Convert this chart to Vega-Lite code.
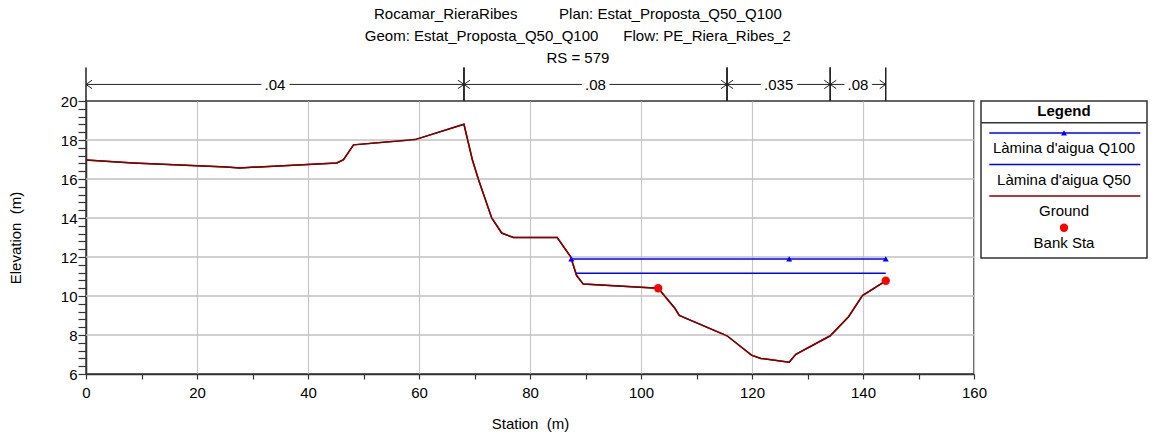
{
  "$schema": "https://vega.github.io/schema/vega-lite/v6.json",
  "padding": {"left": 7, "top": 6, "right": 0, "bottom": 0},
  "title": {
    "text": [
      "Rocamar_RieraRibes\u00a0\u00a0\u00a0\u00a0\u00a0\u00a0\u00a0\u00a0\u00a0\u00a0Plan: Estat_Proposta_Q50_Q100",
      "Geom: Estat_Proposta_Q50_Q100\u00a0\u00a0\u00a0\u00a0\u00a0\u00a0Flow: PE_Riera_Ribes_2",
      "RS = 579"
    ],
    "fontSize": 15,
    "fontWeight": "normal",
    "font": "Liberation Sans",
    "color": "black",
    "lineHeight": 22,
    "anchor": "middle",
    "offset": 0
  },
  "datasets": {
    "ygrid": [
      {"elevation": 8}, {"elevation": 10}, {"elevation": 12}, {"elevation": 14}, {"elevation": 16}, {"elevation": 18}
    ],
    "ground": [
      {"station": 0, "elevation": 16.97},
      {"station": 8.5, "elevation": 16.82},
      {"station": 25.3, "elevation": 16.62},
      {"station": 27.7, "elevation": 16.57},
      {"station": 45.2, "elevation": 16.82},
      {"station": 46.4, "elevation": 16.99},
      {"station": 48.2, "elevation": 17.75},
      {"station": 59.3, "elevation": 18.02},
      {"station": 68.1, "elevation": 18.81},
      {"station": 69.6, "elevation": 17.0},
      {"station": 70.7, "elevation": 15.99},
      {"station": 73.1, "elevation": 14.0},
      {"station": 74.9, "elevation": 13.23},
      {"station": 77.0, "elevation": 13.0},
      {"station": 84.9, "elevation": 13.0},
      {"station": 87.3, "elevation": 12.02},
      {"station": 88.4, "elevation": 11.05},
      {"station": 89.6, "elevation": 10.61},
      {"station": 103.1, "elevation": 10.4},
      {"station": 106.1, "elevation": 9.37},
      {"station": 106.9, "elevation": 9.0},
      {"station": 115.5, "elevation": 7.96},
      {"station": 119.9, "elevation": 6.97},
      {"station": 121.6, "elevation": 6.8},
      {"station": 126.7, "elevation": 6.6},
      {"station": 127.9, "elevation": 7.01},
      {"station": 134.1, "elevation": 7.96},
      {"station": 137.4, "elevation": 8.94},
      {"station": 139.9, "elevation": 10.02},
      {"station": 144.1, "elevation": 10.78}
    ],
    "q100": [
      {"station": 87.45, "elevation": 11.9},
      {"station": 126.7, "elevation": 11.9},
      {"station": 144.1, "elevation": 11.9}
    ],
    "q50": [
      {"station": 88.3, "elevation": 11.17},
      {"station": 144.1, "elevation": 11.17}
    ],
    "banks": [
      {"station": 103.1, "elevation": 10.4},
      {"station": 144.1, "elevation": 10.78}
    ],
    "manning": [
      {"zone": 1, "n": ".04", "start": 0, "end": 68.1},
      {"zone": 2, "n": ".08", "start": 68.1, "end": 115.5},
      {"zone": 3, "n": ".035", "start": 115.5, "end": 134.1},
      {"zone": 4, "n": ".08", "start": 134.1, "end": 144.1}
    ],
    "legend": [
      {"item": "Làmina d'aigua Q100"},
      {"item": "Làmina d'aigua Q50"},
      {"item": "Ground"},
      {"item": "Bank Sta"}
    ],
    "legendTitle": [
      {"item": "Legend"}
    ]
  },
  "hconcat": [
    {
      "width": 888,
      "height": 273,
      "layer": [
        {
          "data": {"name": "ground"},
          "mark": {"type": "line", "color": "#800000", "strokeWidth": 1.5},
          "encoding": {
            "x": {
              "field": "station", "type": "quantitative", "title": "Station\u00a0\u00a0(m)",
              "scale": {"domain": [0, 160], "nice": false, "zero": false},
              "axis": {
                "grid": true,
                "values": [0, 10, 20, 30, 40, 50, 60, 70, 80, 90, 100, 110, 120, 130, 140, 150, 160],
                "tickCount": 40,
                "labelExpr": "datum.value % 20 === 0 ? datum.label : ''",
                "gridOpacity": {"condition": {"test": "datum.value % 20 === 0", "value": 1}, "value": 0},
                "tickSize": 5,
                "labelPadding": 6,
                "titlePadding": 16,
                "labelOverlap": false,
                "labelFlush": false
              }
            },
            "y": {
              "field": "elevation", "type": "quantitative", "title": "Elevation\u00a0\u00a0(m)",
              "scale": {"domain": [6, 20], "nice": false, "zero": false},
              "axis": {
                "grid": false,
                "values": [6, 6.4, 6.8, 7.2, 7.6, 8, 8.4, 8.8, 9.2, 9.6, 10, 10.4, 10.8, 11.2, 11.6, 12, 12.4, 12.8, 13.2, 13.6, 14, 14.4, 14.8, 15.2, 15.6, 16, 16.4, 16.8, 17.2, 17.6, 18, 18.4, 18.8, 19.2, 19.6, 20],
                "tickCount": 80,
                "labelExpr": "datum.value % 2 === 0 ? format(datum.value, 'd') : ''",
                "tickSize": 8,
                "encode": {"ticks": {"update": {"x2": {"signal": "datum.value % 2 === 0 ? -8 : -4"}}}},
                "labelPadding": 1,
                "titlePadding": 37.3,
                "labelOverlap": false,
                "labelFlush": false
              }
            }
          }
        },
        {
          "data": {"name": "ygrid"},
          "mark": {"type": "rule", "color": "#c0c0c0", "strokeWidth": 1.3},
          "encoding": {
            "x": {"datum": 0, "type": "quantitative", "title": "Station\u00a0\u00a0(m)"},
            "x2": {"datum": 160},
            "y": {"field": "elevation", "type": "quantitative", "title": "Elevation\u00a0\u00a0(m)"}
          }
        },
        {
          "data": {"name": "ground"},
          "mark": {"type": "line", "color": "#800000", "strokeWidth": 1.5},
          "encoding": {
            "x": {"field": "station", "type": "quantitative", "title": "Station\u00a0\u00a0(m)"},
            "y": {"field": "elevation", "type": "quantitative", "title": "Elevation\u00a0\u00a0(m)"}
          }
        },
        {
          "data": {"name": "q50"},
          "mark": {"type": "line", "color": "#0000ff", "strokeWidth": 1.5},
          "encoding": {
            "x": {"field": "station", "type": "quantitative", "title": "Station\u00a0\u00a0(m)"},
            "y": {"field": "elevation", "type": "quantitative", "title": "Elevation\u00a0\u00a0(m)"}
          }
        },
        {
          "data": {"name": "q100"},
          "mark": {"type": "line", "color": "#0000ff", "strokeWidth": 1.5,
                   "point": {"shape": "triangle-up", "size": 36, "filled": true, "color": "#0000ff"}},
          "encoding": {
            "x": {"field": "station", "type": "quantitative", "title": "Station\u00a0\u00a0(m)"},
            "y": {"field": "elevation", "type": "quantitative", "title": "Elevation\u00a0\u00a0(m)"}
          }
        },
        {
          "data": {"name": "banks"},
          "mark": {"type": "point", "shape": "circle", "size": 70, "filled": true, "color": "#ff0000", "opacity": 1},
          "encoding": {
            "x": {"field": "station", "type": "quantitative", "title": "Station\u00a0\u00a0(m)"},
            "y": {"field": "elevation", "type": "quantitative", "title": "Elevation\u00a0\u00a0(m)"}
          }
        },
        {
          "data": {"name": "manning"},
          "mark": {"type": "rule", "color": "#222222", "strokeWidth": 1.5},
          "encoding": {
            "x": {"field": "start", "type": "quantitative", "title": "Station\u00a0\u00a0(m)"},
            "y": {"datum": 20, "type": "quantitative", "title": "Elevation\u00a0\u00a0(m)"},
            "y2": {"datum": 21.72}
          }
        },
        {
          "data": {"name": "manning"},
          "mark": {"type": "rule", "color": "#222222", "strokeWidth": 1.5},
          "encoding": {
            "x": {"field": "end", "type": "quantitative", "title": "Station\u00a0\u00a0(m)"},
            "y": {"datum": 20, "type": "quantitative", "title": "Elevation\u00a0\u00a0(m)"},
            "y2": {"datum": 21.72}
          }
        },
        {
          "data": {"name": "manning"},
          "mark": {"type": "rule", "color": "#222222", "strokeWidth": 1},
          "encoding": {
            "x": {"field": "start", "type": "quantitative", "title": "Station\u00a0\u00a0(m)"},
            "x2": {"field": "end"},
            "y": {"datum": 20.85, "type": "quantitative", "title": "Elevation\u00a0\u00a0(m)"}
          }
        },
        {
          "data": {"name": "manning"},
          "mark": {"type": "point", "shape": "M1,-0.7L0,0L1,0.7", "size": 144, "filled": false, "color": "#222222", "strokeWidth": 1, "opacity": 1},
          "encoding": {
            "x": {"field": "start", "type": "quantitative", "title": "Station\u00a0\u00a0(m)"},
            "y": {"datum": 20.85, "type": "quantitative", "title": "Elevation\u00a0\u00a0(m)"}
          }
        },
        {
          "data": {"name": "manning"},
          "mark": {"type": "point", "shape": "M-1,-0.7L0,0L-1,0.7", "size": 144, "filled": false, "color": "#222222", "strokeWidth": 1, "opacity": 1},
          "encoding": {
            "x": {"field": "end", "type": "quantitative", "title": "Station\u00a0\u00a0(m)"},
            "y": {"datum": 20.85, "type": "quantitative", "title": "Elevation\u00a0\u00a0(m)"}
          }
        },
        {
          "data": {"name": "manning"},
          "transform": [{"fold": ["start", "end"], "as": ["edge", "pos"]}],
          "mark": {"type": "text", "fontSize": 15, "fill": "white", "stroke": "white", "strokeWidth": 9, "baseline": "middle", "align": "center", "dy": 1},
          "encoding": {
            "x": {"aggregate": "mean", "field": "pos", "type": "quantitative", "title": "Station\u00a0\u00a0(m)"},
            "y": {"datum": 20.85, "type": "quantitative", "title": "Elevation\u00a0\u00a0(m)"},
            "text": {"field": "n", "type": "nominal"},
            "detail": {"field": "zone", "type": "nominal"}
          }
        },
        {
          "data": {"name": "manning"},
          "transform": [{"fold": ["start", "end"], "as": ["edge", "pos"]}],
          "mark": {"type": "text", "fontSize": 15, "fill": "black", "baseline": "middle", "align": "center", "dy": 1},
          "encoding": {
            "x": {"aggregate": "mean", "field": "pos", "type": "quantitative", "title": "Station\u00a0\u00a0(m)"},
            "y": {"datum": 20.85, "type": "quantitative", "title": "Elevation\u00a0\u00a0(m)"},
            "text": {"field": "n", "type": "nominal"},
            "detail": {"field": "zone", "type": "nominal"}
          }
        }
      ]
    },
    {
      "width": 166,
      "height": 157,
      "layer": [
        {
          "data": {"name": "legendTitle"},
          "mark": {"type": "text", "fontSize": 15, "fontWeight": "bold", "color": "black", "baseline": "middle", "yOffset": -5},
          "encoding": {
            "x": {"datum": 0.5, "type": "quantitative", "scale": {"domain": [0, 1], "nice": false, "zero": false}, "axis": null},
            "y": {"field": "item", "type": "nominal", "sort": null,
                  "scale": {"type": "point", "domain": ["Legend", "Làmina d'aigua Q100", "Làmina d'aigua Q50", "Ground", "Bank Sta"], "padding": 0.484},
                  "axis": null},
            "text": {"field": "item", "type": "nominal"}
          }
        },
        {
          "data": {"name": "legendTitle"},
          "mark": {"type": "rule", "color": "#333333", "strokeWidth": 1.5, "yOffset": 6.5},
          "encoding": {
            "y": {"field": "item", "type": "nominal", "axis": null}
          }
        },
        {
          "data": {"name": "legend"},
          "transform": [{"filter": "datum.item !== 'Bank Sta'"}],
          "mark": {"type": "rule", "strokeWidth": 1.5, "yOffset": -15},
          "encoding": {
            "x": {"datum": 0.05, "type": "quantitative", "axis": null},
            "x2": {"datum": 0.96},
            "y": {"field": "item", "type": "nominal", "axis": null},
            "color": {"field": "item", "type": "nominal",
                      "scale": {"domain": ["Làmina d'aigua Q100", "Làmina d'aigua Q50", "Ground", "Bank Sta"], "range": ["#0000ff", "#0000ff", "#800000", "#ff0000"]},
                      "legend": null}
          }
        },
        {
          "data": {"name": "legend"},
          "transform": [{"filter": "datum.item === 'Làmina d\\'aigua Q100'"}],
          "mark": {"type": "point", "shape": "triangle-up", "size": 36, "filled": true, "opacity": 1, "yOffset": -15},
          "encoding": {
            "x": {"datum": 0.5, "type": "quantitative", "axis": null},
            "y": {"field": "item", "type": "nominal", "axis": null},
            "color": {"field": "item", "type": "nominal", "legend": null}
          }
        },
        {
          "data": {"name": "legend"},
          "transform": [{"filter": "datum.item === 'Bank Sta'"}],
          "mark": {"type": "point", "shape": "circle", "size": 70, "filled": true, "opacity": 1, "yOffset": -15},
          "encoding": {
            "x": {"datum": 0.5, "type": "quantitative", "axis": null},
            "y": {"field": "item", "type": "nominal", "axis": null},
            "color": {"field": "item", "type": "nominal", "legend": null}
          }
        },
        {
          "data": {"name": "legend"},
          "mark": {"type": "text", "fontSize": 15, "color": "black", "baseline": "middle"},
          "encoding": {
            "x": {"datum": 0.5, "type": "quantitative", "axis": null},
            "y": {"field": "item", "type": "nominal", "axis": null},
            "text": {"field": "item", "type": "nominal"}
          }
        }
      ]
    }
  ],
  "spacing": 7,
  "bounds": "flush",
  "config": {
    "font": "Liberation Sans",
    "view": {"stroke": "#333333", "strokeWidth": 1.5},
    "axis": {
      "labelFont": "Liberation Sans",
      "labelFontSize": 15,
      "labelColor": "black",
      "titleFont": "Liberation Sans",
      "titleFontSize": 15,
      "titleFontWeight": "normal",
      "titleColor": "black",
      "domainColor": "#333333",
      "domainWidth": 1.5,
      "tickColor": "#333333",
      "tickWidth": 1.2,
      "gridColor": "#c8c8c8",
      "gridWidth": 1.2
    },
    "text": {"font": "Liberation Sans"}
  }
}
